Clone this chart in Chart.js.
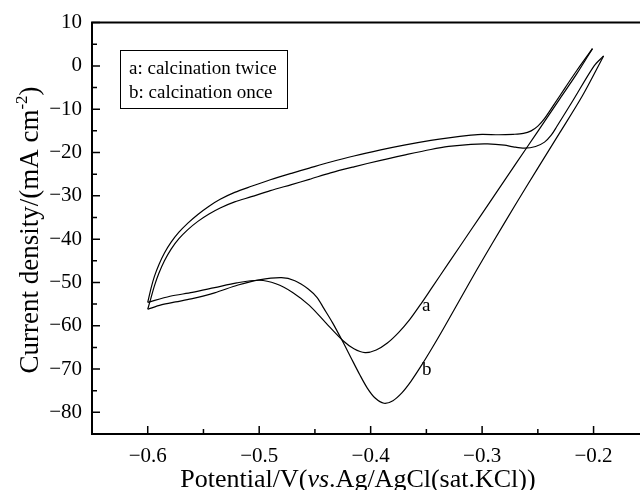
<!DOCTYPE html>
<html>
<head>
<meta charset="utf-8">
<script src="https://cdn.jsdelivr.net/npm/chart.js@4.4.0/dist/chart.umd.min.js"></script>
<style>
  html, body { margin: 0; padding: 0; width: 640px; height: 490px; overflow: hidden; background: #fff; }
  #wrap { position: relative; width: 660px; height: 490px; }
</style>
</head>
<body>
<div id="wrap"><canvas id="cv" width="660" height="490"></canvas></div>
<script>
// ── Data (potential in V, current density in mA cm-2) ─────────────────────────
// a: calcination twice — forward (lower) sweep, then return (upper) sweep
const aFwdV = [-0.600, -0.580, -0.560, -0.540, -0.520, -0.500, -0.485, -0.470, -0.455, -0.440,
               -0.425, -0.415, -0.405, -0.395, -0.385, -0.375, -0.365, -0.355, -0.345, -0.330,
               -0.310, -0.290, -0.270, -0.250, -0.230, -0.215, -0.201];
const aFwdI = [-54.6, -53.2, -52.3, -51.2, -50.1, -49.5, -50.3, -52.3, -55.3, -59.4,
               -63.4, -65.3, -66.2, -65.6, -64.0, -61.6, -58.6, -55.0, -51.2, -45.5,
               -37.9, -30.3, -22.7, -15.1, -7.5, -1.8, 4.0];
const aRevV = [-0.201, -0.2149, -0.2254, -0.2357, -0.2444, -0.250, -0.256, -0.263, -0.272, -0.285,
               -0.300, -0.310, -0.330, -0.346, -0.370, -0.391, -0.415, -0.436, -0.455, -0.471,
               -0.490, -0.507, -0.522, -0.535, -0.545, -0.555, -0.564, -0.572, -0.579, -0.585,
               -0.590, -0.594, -0.597, -0.600];
const aRevI = [4.0, -1.0, -5.0, -9.0, -12.3, -13.9, -15.0, -15.6, -15.8, -15.9,
               -15.8, -16.0, -16.6, -17.2, -18.3, -19.4, -20.8, -22.2, -23.6, -24.8,
               -26.3, -27.8, -29.2, -30.8, -32.4, -34.3, -36.3, -38.4, -40.7, -43.2,
               -45.9, -48.6, -51.3, -54.6];

// b: calcination once
const bFwdV = [-0.600, -0.588, -0.575, -0.561, -0.540, -0.519, -0.500, -0.480, -0.468, -0.456,
               -0.448, -0.442, -0.434, -0.426, -0.418, -0.410, -0.403, -0.396, -0.388, -0.380,
               -0.372, -0.364, -0.355, -0.345, -0.335, -0.320, -0.305, -0.290, -0.270, -0.250,
               -0.230, -0.210, -0.191];
const bFwdI = [-56.2, -55.2, -54.5, -53.8, -52.4, -50.6, -49.4, -48.9, -49.6, -51.5,
               -53.5, -56.0, -59.4, -63.2, -67.2, -71.2, -74.4, -76.7, -77.9, -77.3,
               -75.5, -72.9, -69.4, -65.2, -60.8, -54.0, -47.2, -40.6, -32.0, -23.6,
               -15.3, -6.9, 2.3];
const bRevV = [-0.191, -0.1995, -0.2185, -0.233, -0.238, -0.244, -0.252, -0.262, -0.272, -0.280,
               -0.295, -0.310, -0.330, -0.346, -0.370, -0.391, -0.415, -0.436, -0.455, -0.471,
               -0.490, -0.507, -0.522, -0.535, -0.545, -0.555, -0.564, -0.572, -0.579, -0.585,
               -0.590, -0.594, -0.597, -0.600];
const bRevI = [2.3, 0.0, -8.0, -14.0, -16.0, -17.6, -18.6, -19.0, -18.7, -18.3,
               -18.0, -18.1, -18.6, -19.3, -20.6, -21.8, -23.3, -24.7, -26.2, -27.4,
               -28.8, -30.2, -31.4, -32.8, -34.2, -35.9, -37.8, -39.9, -42.3, -45.0,
               -47.9, -50.8, -53.5, -56.2];

// Axis ticks
const xMajor = [-0.6, -0.5, -0.4, -0.3, -0.2];
const xMinor = [-0.55, -0.45, -0.35, -0.25];
const yMajor = [10, 0, -10, -20, -30, -40, -50, -60, -70, -80];
const yMinor = [5, -5, -15, -25, -35, -45, -55, -65, -75];

// Curve labels and legend entries
const curveLabels = ["a", "b"];
const curveLabelV = [-0.354, -0.354];
const curveLabelI = [-56.5, -71.3];
const legendLines = ["a: calcination twice", "b: calcination once"];

// ── Helpers ───────────────────────────────────────────────────────────────────
const SERIF = "'Liberation Serif', 'Times New Roman', serif";

function pts(xs, ys) {
  return xs.map((x, i) => ({ x, y: ys[i] }));
}

function line(label, xs, ys) {
  return {
    label,
    data: pts(xs, ys),
    showLine: true,
    pointRadius: 0,
    borderColor: "#000",
    borderWidth: 1.2,
    tension: 0.3,
    fill: false,
  };
}

// minus sign instead of hyphen, as in the original figure
function fmtTick(v, digits) {
  const s = Math.abs(v).toFixed(digits);
  return v < 0 ? "\u2212" + s : s;
}

// ── Decorations: frame, inward ticks, titles, legend box, curve labels ────────
const decor = {
  id: "decor",
  afterDraw(chart) {
    const { ctx, chartArea: ca, scales: { x, y } } = chart;
    ctx.save();
    ctx.strokeStyle = "#000";
    ctx.fillStyle = "#000";

    // top frame line
    ctx.lineWidth = 2;
    ctx.beginPath();
    ctx.moveTo(ca.left - 1, ca.top);
    ctx.lineTo(ca.right, ca.top);
    ctx.stroke();

    // inward ticks
    ctx.lineWidth = 1.5;
    ctx.beginPath();
    xMajor.forEach((v) => { const p = x.getPixelForValue(v); ctx.moveTo(p, ca.bottom); ctx.lineTo(p, ca.bottom - 8); });
    xMinor.forEach((v) => { const p = x.getPixelForValue(v); ctx.moveTo(p, ca.bottom); ctx.lineTo(p, ca.bottom - 5); });
    yMajor.forEach((v) => { const p = y.getPixelForValue(v); ctx.moveTo(ca.left, p); ctx.lineTo(ca.left + 8, p); });
    yMinor.forEach((v) => { const p = y.getPixelForValue(v); ctx.moveTo(ca.left, p); ctx.lineTo(ca.left + 5, p); });
    ctx.stroke();

    // x title: Potential/V(vs.Ag/AgCl(sat.KCl))
    const xParts = [
      ["Potential/V(", "26px " + SERIF],
      ["vs", "italic 26px " + SERIF],
      [".Ag/AgCl(sat.KCl))", "26px " + SERIF],
    ];
    ctx.textBaseline = "alphabetic";
    ctx.textAlign = "left";
    let total = 0;
    xParts.forEach(([t, f]) => { ctx.font = f; total += ctx.measureText(t).width; });
    let cx = 358 - total / 2;
    xParts.forEach(([t, f]) => { ctx.font = f; ctx.fillText(t, cx, 487); cx += ctx.measureText(t).width; });

    // y title: Current density/(mA cm-2), rotated
    ctx.save();
    ctx.translate(38, 230);
    ctx.rotate(-Math.PI / 2);
    const main1 = "Current density/(mA cm", sup = "-2", main2 = ")";
    ctx.font = "27px " + SERIF;
    const w1 = ctx.measureText(main1).width, w3 = ctx.measureText(main2).width;
    ctx.font = "17px " + SERIF;
    const w2 = ctx.measureText(sup).width;
    let ty = -(w1 + w2 + w3) / 2;
    ctx.font = "27px " + SERIF;
    ctx.fillText(main1, ty, 0);
    ty += w1;
    ctx.font = "17px " + SERIF;
    ctx.fillText(sup, ty, -11);
    ty += w2;
    ctx.font = "27px " + SERIF;
    ctx.fillText(main2, ty, 0);
    ctx.restore();

    // legend box
    ctx.lineWidth = 1;
    ctx.strokeRect(120.5, 50.5, 167, 58);
    ctx.font = "19px " + SERIF;
    ctx.fillText(legendLines[0], 129, 74);
    ctx.fillText(legendLines[1], 129, 97.5);

    // curve labels
    curveLabels.forEach((t, i) => {
      ctx.fillText(t, x.getPixelForValue(curveLabelV[i]), y.getPixelForValue(curveLabelI[i]));
    });

    ctx.restore();
  },
};

// ── Chart ─────────────────────────────────────────────────────────────────────
new Chart(document.getElementById("cv"), {
  type: "scatter",
  data: {
    datasets: [
      line("a forward", aFwdV, aFwdI),
      line("a return", aRevV, aRevI),
      line("b forward", bFwdV, bFwdI),
      line("b return", bRevV, bRevI),
    ],
  },
  options: {
    responsive: false,
    animation: false,
    devicePixelRatio: 1,
    layout: { padding: { top: 22, right: 10.7, left: 0, bottom: 0 } },
    plugins: { legend: { display: false }, tooltip: { enabled: false } },
    scales: {
      x: {
        type: "linear",
        min: -0.65,
        max: -0.15,
        afterFit: (s) => { s.height = 56; },
        afterBuildTicks: (s) => { s.ticks = xMajor.map((v) => ({ value: v })); },
        grid: { display: false, drawTicks: false },
        border: { display: true, color: "#000", width: 2 },
        ticks: {
          color: "#000",
          padding: 10,
          font: { family: SERIF, size: 21 },
          callback: (v) => fmtTick(Number(v), 1),
        },
      },
      y: {
        type: "linear",
        min: -85,
        max: 10,
        afterFit: (s) => { s.width = 92; },
        afterBuildTicks: (s) => { s.ticks = yMajor.map((v) => ({ value: v })); },
        grid: { display: false, drawTicks: false },
        border: { display: true, color: "#000", width: 2 },
        ticks: {
          color: "#000",
          padding: 10,
          font: { family: SERIF, size: 21 },
          callback: (v) => fmtTick(Number(v), 0),
        },
      },
    },
  },
  plugins: [decor],
});
</script>
</body>
</html>
